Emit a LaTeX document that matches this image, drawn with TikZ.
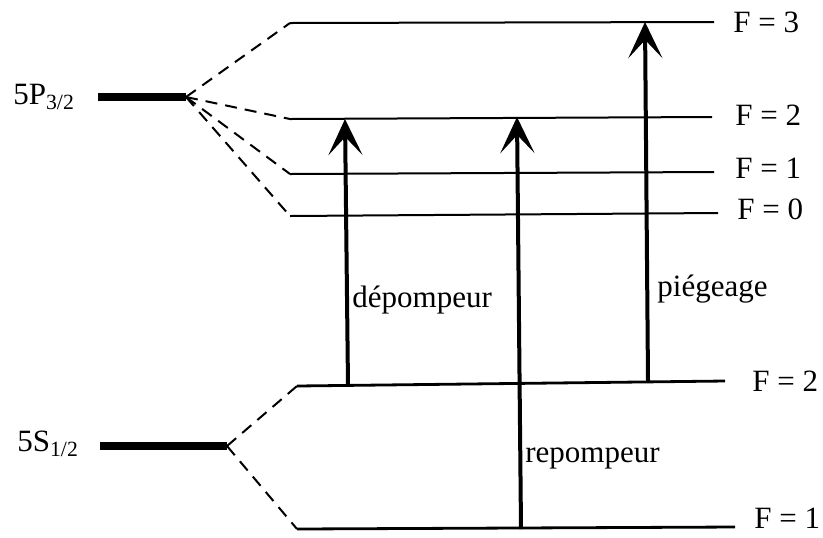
\documentclass[tikz,border=0pt]{standalone}
\usepackage{fontspec}
\setmainfont{Liberation Serif}
\usetikzlibrary{arrows.meta}
\begin{document}
\begin{tikzpicture}[x=0.5pt,y=-0.5pt,
  lvl/.style={line width=1pt},
  fine/.style={line width=1.4pt},
  bar/.style={line width=4pt},
  split/.style={dashed,line width=1pt,dash pattern=on 6pt off 4pt},
  trans/.style={line width=2pt,-{Stealth[length=18pt,width=17pt,inset=9pt]}},
  lab/.style={font=\fontsize{15.5}{18}\selectfont,inner sep=0pt,anchor=west},
  tr/.style={font=\fontsize{15.5}{18}\selectfont,inner sep=0pt,anchor=west}]
\useasboundingbox (0,0) rectangle (823,537);
% fine structure bars
\coordinate (P0) at (98,97);
\coordinate (P1) at (186,97);
\coordinate (S0) at (100,446);
\coordinate (S1) at (227,446);
\draw[bar] (P0) -- (P1);
\draw[bar] (S0) -- (S1);
\node[lab] (lP) at (13,97) {5P\textsubscript{3/2}};
\node[lab] (lS) at (17,444) {5S\textsubscript{1/2}};
% hyperfine levels
\coordinate (a3) at (290,23); \coordinate (b3) at (714,22);
\coordinate (a2) at (290,119); \coordinate (b2) at (712,117);
\coordinate (a1) at (290,174); \coordinate (b1) at (714,172);
\coordinate (a0) at (290,216); \coordinate (b0) at (718,213);
\coordinate (g2a) at (297,386); \coordinate (g2b) at (725,381);
\coordinate (g1a) at (297,529); \coordinate (g1b) at (735,527);
\foreach \p in {3,2,1,0} {\draw[lvl] (a\p) -- (b\p);}
\draw[fine] (g2a) -- (g2b);
\draw[fine] (g1a) -- (g1b);
% splitting lines
\foreach \p in {3,2,1,0} {\draw[split] (P1) -- (a\p);}
\draw[split] (S1) -- (g2a);
\draw[split] (S1) -- (g1a);
% F labels
\node[lab] (f3) at (733,22) {F = 3};
\node[lab] (f2) at (735,115) {F = 2};
\node[lab] (f1) at (735,168) {F = 1};
\node[lab] (f0) at (737,209) {F = 0};
\node[lab] (g2) at (752,381) {F = 2};
\node[lab] (g1) at (754,518) {F = 1};
% transitions
\coordinate (d0) at (348,386); \coordinate (d1) at (345,119);
\coordinate (r0) at (521,529); \coordinate (r1) at (517,117);
\coordinate (p0) at (648,381); \coordinate (p1) at (645,22);
\draw[trans] (d0) -- (d1);
\draw[trans] (r0) -- (r1);
\draw[trans] (p0) -- (p1);
\node[tr] (td) at (352,300) {dépompeur};
\node[tr] (tp) at (657,289) {piégeage};
\node[tr] (trr) at (525,458) {repompeur};
\end{tikzpicture}
\end{document}
